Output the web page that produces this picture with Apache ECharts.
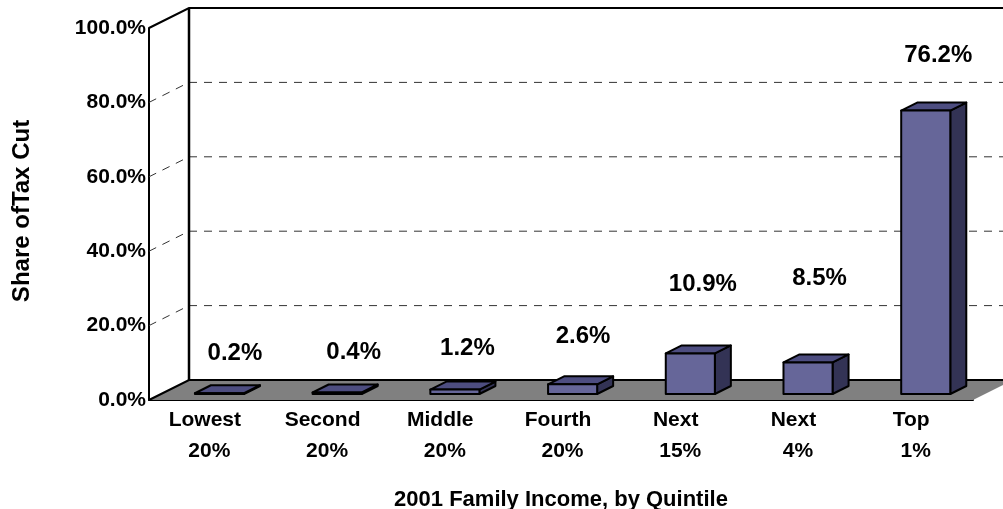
<!DOCTYPE html>
<html><head><meta charset="utf-8">
<style>html,body{margin:0;padding:0;background:#fff}#c{width:1003px;height:509px}</style>
<script src="https://cdn.jsdelivr.net/npm/echarts@6/dist/echarts.min.js"></script>
</head><body><div id="c"></div>
<script>
const categories = ['Lowest\n20%','Second\n20%','Middle\n20%','Fourth\n20%','Next\n15%','Next\n4%','Top\n1%'];
const shares = [0.2,0.4,1.2,2.6,10.9,8.5,76.2];
const gridTicks = [20,40,60,80];
const labelLift = [40,40,41,48,69,84,55];   // hand-placed label height above each bar (px)
const labelShift = [15.5,16.5,12.5,10.5,12.5,11.5,12.5]; // hand-placed label shift right of each bar centre (px)
const font = '"Liberation Sans", Arial, sans-serif';
const WALL_DX = 40, WALL_DY = 20, BAR_DX = 16, BAR_DY = 8;
const chart = echarts.init(document.getElementById('c'), null, {renderer:'canvas'});
function renderFrame(params, api){
  const cs = params.coordSys, L = cs.x, R = cs.x+cs.width, B = cs.y+cs.height, T = cs.y;
  const dashStyle = {stroke:'#333', lineWidth:1, lineDash:[8,7], fill:null};
  const kids = [
    {type:'polygon', shape:{points:[[L,B],[L+WALL_DX,B-WALL_DY],[R+WALL_DX,B-WALL_DY],[R,B]]}, style:{fill:'#808080',stroke:null}}
  ];
  gridTicks.forEach(t=>{
    const y = api.coord([0,t])[1];
    kids.push({type:'line', shape:{x1:L,y1:y,x2:L+WALL_DX,y2:y-WALL_DY}, style:dashStyle});
    kids.push({type:'line', shape:{x1:L+WALL_DX,y1:y-WALL_DY,x2:R+WALL_DX,y2:y-WALL_DY}, style:dashStyle});
  });
  const solid = {stroke:'#000', lineWidth:2, fill:null};
  kids.push({type:'polyline', shape:{points:[[L,T],[L+WALL_DX,T-WALL_DY],[R+WALL_DX,T-WALL_DY]]}, style:solid});
  kids.push({type:'line', shape:{x1:L+WALL_DX,y1:T-WALL_DY,x2:L+WALL_DX,y2:B-WALL_DY}, style:{stroke:'#000',lineWidth:2.5}});
  kids.push({type:'polyline', shape:{points:[[L,B],[L+WALL_DX,B-WALL_DY],[R+WALL_DX,B-WALL_DY]]}, style:solid});
  return {type:'group', children:kids};
}
function renderBar(params, api){
  const i = api.value(0), v = api.value(1);
  const band = api.size([1,0])[0];
  const c = api.coord([i,0]), t = api.coord([i,v]);
  const w = band*0.417, x0 = c[0]+11.6-w/2, x1 = x0+w;
  const yb = c[1]-6, yt = t[1]-6;
  const line = {stroke:'#000', lineWidth:2, lineJoin:'round'};
  return {type:'group', children:[
    {type:'polygon', shape:{points:[[x1,yb],[x1+BAR_DX,yb-BAR_DY],[x1+BAR_DX,yt-BAR_DY],[x1,yt]]}, style:{fill:'#333355',...line}},
    {type:'polygon', shape:{points:[[x0,yt],[x1,yt],[x1+BAR_DX,yt-BAR_DY],[x0+BAR_DX,yt-BAR_DY]]}, style:{fill:'#4d4d80',...line}},
    {type:'rect', shape:{x:x0,y:yt,width:w,height:yb-yt}, style:{fill:'#666699',...line}},
    {type:'text', x:x0+w/2+labelShift[i], y:yt-labelLift[i], style:{text:v.toFixed(1)+'%', font:'bold 24px '+font, fill:'#000', textAlign:'center', textVerticalAlign:'middle'}}
  ]};
}
chart.setOption({
  animation:false,
  backgroundColor:'#fff',
  grid:{left:149,right:30,top:28,bottom:109,outerBoundsMode:'none'},
  xAxis:{type:'category',data:categories,
    axisLine:{lineStyle:{color:'#000',width:2}},axisTick:{show:false},splitLine:{show:false},
    axisLabel:{fontFamily:font,interval:0,margin:5,
      formatter:s=>{const p=s.split('\n');return '{w|'+p[0]+'}\n{p|'+p[1]+'}';},
      rich:{
        w:{color:'#000',fontFamily:font,fontWeight:'bold',fontSize:21,lineHeight:31,padding:[0,6,0,0]},
        p:{color:'#000',fontFamily:font,fontWeight:'bold',fontSize:21,lineHeight:31,padding:[0,0,0,3]}
      }},
    name:'2001 Family Income, by Quintile',nameLocation:'middle',nameGap:89,
    nameTextStyle:{color:'#000',fontFamily:font,fontWeight:'bold',fontSize:22}},
  yAxis:{type:'value',min:0,max:100,interval:20,
    axisLine:{show:true,lineStyle:{color:'#000',width:2}},axisTick:{show:false},splitLine:{show:false},
    axisLabel:{color:'#000',fontFamily:font,fontWeight:'bold',fontSize:21,margin:3,formatter:v=>v.toFixed(1)+'%'},
    name:'Share ofTax Cut',nameLocation:'middle',nameGap:115,
    nameTextStyle:{color:'#000',fontFamily:font,fontWeight:'bold',fontSize:24,padding:[0,0,0,6]}},
  series:[
    {type:'custom',coordinateSystem:'cartesian2d',clip:false,z:1,renderItem:renderFrame,data:[[0,0]],silent:true},
    {type:'custom',coordinateSystem:'cartesian2d',clip:false,z:2,renderItem:renderBar,data:shares.map((v,i)=>[i,v]),encode:{x:0,y:1},silent:true}
  ]
});
</script></body></html>
